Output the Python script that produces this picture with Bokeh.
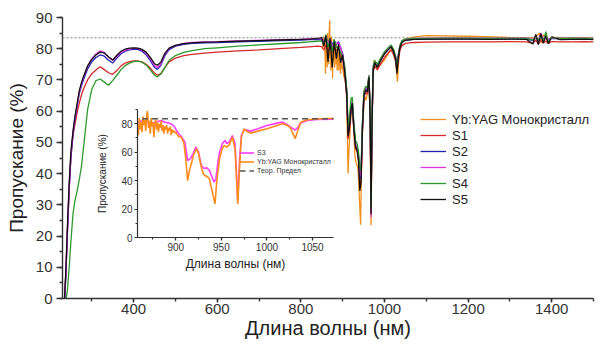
from bokeh.plotting import figure
from bokeh.models import Range1d, Span, Legend, LegendItem, GridBox, SingleIntervalTicker
from bokeh.embed import file_html
from bokeh.resources import INLINE

FONT = "Liberation Sans"

# ---------------- main chart data ----------------
wl = [230, 234, 238, 242, 246, 250, 255, 260, 265, 270,
      275, 280, 290, 300, 310, 320, 330, 340, 350, 360,
      370, 380, 390, 400, 410, 420, 430, 440, 450, 457,
      465, 475, 485, 500, 520, 540, 570, 600, 650, 700,
      750, 800, 820, 840, 850, 855, 860, 865, 870, 875,
      880, 885, 890, 895, 900, 905, 910, 913, 916, 920,
      923, 927, 931, 935, 938, 941, 944, 947, 951, 955,
      959, 963, 966, 968, 970, 973, 977, 983, 990, 1000,
      1010, 1016, 1022, 1027, 1030, 1033, 1037, 1042, 1050, 1070,
      1100, 1150, 1200, 1250, 1300, 1340, 1355, 1362, 1368, 1374,
      1380, 1386, 1392, 1400, 1420, 1450, 1480, 1500]

s1 = [-15, -3, 8, 22, 35, 45, 52, 56, 59.5, 62.5,
      65, 67, 70, 72, 73.2, 74.2, 73.3, 72.3, 71.8, 73,
      74.5, 75.4, 75.9, 76.1, 76.1, 75.8, 75, 73.8, 72.2, 71.5,
      72, 74, 75.8, 77, 77.8, 78.2, 78.6, 78.9, 79.3, 79.6,
      80, 80.4, 80.6, 80.8, 80.7, 79.6, 81.2, 79.2, 80.6, 78.8,
      80.4, 79.4, 80, 78.5, 76.5, 71.5, 64.5, 51, 53.5, 59.5,
      61.5, 53.5, 48, 47, 44, 36.6, 37.5, 52.5, 64.5, 66,
      65.5, 70, 58, 28, 54, 72.5, 74.5, 73.2, 75, 77.2,
      78.8, 79.6, 78, 75.8, 73, 76.2, 79.4, 81, 81.7, 82,
      82.1, 82.2, 82.2, 82.2, 82.3, 82.2, 81.7, 82.8, 81.5, 82.6,
      81.8, 82.5, 81.7, 82.3, 82.2, 82.2, 82.3, 82.2]

s2 = [-16, -4, 7, 22, 35, 45, 52.5, 57.5, 61.5, 65.5,
      68, 70, 73.5, 75.8, 77.2, 78, 77.6, 76.3, 75.4, 77,
      78.4, 79.2, 79.6, 79.8, 79.8, 79.2, 78.1, 76.2, 74, 73.4,
      74.6, 77.8, 79.7, 80.8, 81.4, 81.7, 81.9, 82, 82.2, 82.4,
      82.6, 82.8, 82.9, 83, 82.8, 82.3, 83.4, 81.8, 82.9, 81.2,
      82.5, 81.4, 82.3, 80.2, 78.5, 73.5, 66, 53, 55, 61,
      63, 55, 49, 48, 45.5, 39, 38.5, 54, 65.5, 67,
      66.5, 71, 59, 30, 55, 73.5, 75.6, 74.4, 76.2, 78.5,
      80, 80.8, 79.2, 77, 73.5, 77.5, 80.6, 82.2, 82.8, 83,
      83.1, 83.2, 83.2, 83.1, 83.2, 83.2, 82.6, 83.8, 82.4, 83.9,
      82.7, 83.5, 82.6, 83.3, 83.2, 83.1, 83.2, 83.1]

s3 = [-15, -3, 8, 23, 36, 46, 53, 58, 62, 66,
      68.5, 70.7, 74.3, 76.8, 78.3, 79.3, 78.8, 77.3, 76.2, 77.6,
      78.9, 79.6, 79.9, 80.1, 80.1, 79.6, 78.6, 76.8, 74.6, 74,
      75.2, 78.3, 80.1, 81.1, 81.7, 82, 82.2, 82.3, 82.5, 82.7,
      82.9, 83.1, 83.2, 83.3, 83.2, 82.6, 83.7, 81.5, 83, 80.6,
      82.3, 81.6, 81.8, 80.5, 78, 73, 66, 54, 55.5, 61,
      63.5, 55, 49.5, 48.5, 46, 40.5, 39, 55, 66, 67.5,
      67, 71.5, 60, 26, 55, 74, 76, 74.8, 76.5, 78.8,
      80.3, 81.1, 79.5, 77.5, 75.5, 78, 81, 82.5, 83, 83.3,
      83.4, 83.5, 83.5, 83.4, 83.4, 83.5, 83, 84.2, 82.6, 85,
      82.8, 83.6, 83, 83.5, 83.4, 83.5, 83.4, 83.4]

s4 = [-20, -8, -1, 3, 10, 18, 27, 31.5, 34.5, 38,
      42, 48, 60.5, 67, 69.8, 70.3, 69.3, 68.3, 69.8, 71.5,
      73.3, 74.6, 75.4, 75.9, 76, 75.7, 74.8, 73.2, 71.5, 71,
      71.8, 74, 76.3, 77.8, 78.8, 79.4, 80, 80.3, 80.8, 81.2,
      81.6, 82, 82.2, 82.4, 82.5, 81.7, 84.5, 80.5, 82.8, 79,
      83, 80.5, 80, 79, 77.5, 74.5, 67, 55, 57.5, 64,
      64.5, 56, 50.5, 49.5, 47, 42, 41, 55.5, 66.5, 68,
      67.5, 71.5, 61, 29, 56.5, 74.5, 76.2, 75, 76.8, 79,
      80.5, 81.2, 79.8, 77.4, 74, 78, 81, 82.6, 83.1, 83.3,
      83.3, 83.4, 83.4, 83.3, 83.4, 83.3, 82.8, 83.9, 82.9, 84,
      82.5, 85.5, 82.2, 83.6, 83.3, 83.4, 83.3, 83.3]

s5 = [-14, -2, 9, 24, 37, 47, 53.5, 58.5, 62.5, 66.5,
      69, 71, 74.5, 76.6, 78, 78.9, 78.6, 77.4, 76.4, 77.9,
      79.2, 79.9, 80.2, 80.3, 80.2, 79.8, 78.9, 77.2, 75.2, 74.7,
      75.7, 78.6, 80.2, 81.1, 81.6, 81.9, 82.1, 82.2, 82.4, 82.6,
      82.8, 83, 83.1, 83.3, 83.6, 80.8, 84.2, 75.8, 83.4, 74,
      82.2, 76.8, 81.5, 75.5, 78, 72.5, 65, 52, 54.5, 60.5,
      62.5, 54, 48.5, 47.3, 44, 34.5, 37, 53, 65, 66.8,
      66.2, 70.8, 57, 27, 53, 73, 75.5, 74, 76, 78.3,
      79.8, 80.6, 79, 76.5, 72, 77, 80.4, 82, 82.7, 83,
      83.1, 83.1, 83.1, 83, 83.1, 83, 81.5, 84.6, 81.3, 84.8,
      81.8, 84.2, 81.6, 83.8, 82.9, 83, 83.1, 82.9]

# Yb:YAG single crystal (used in main chart and inset)
yb_wl = [852, 855, 858, 859, 860, 861, 862, 863, 864, 865,
         866, 867, 868, 869, 870, 871, 872, 873, 874, 875,
         876, 877, 878, 879, 880, 881, 882, 883, 884, 885,
         886, 887, 888, 889, 890, 891, 892, 893, 894, 895,
         896, 897, 898, 899, 900, 903, 906, 909, 911, 913,
         915, 917, 920, 923, 925, 928, 930, 932, 935, 937,
         939, 941, 943, 945, 948, 951, 953, 956, 959, 962,
         965, 968, 970, 972, 975, 978, 982, 990, 1000, 1011,
         1017, 1022, 1026, 1029, 1031, 1034, 1037, 1044, 1055, 1073,
         1100, 1200, 1300, 1360, 1370, 1375, 1380, 1390, 1400, 1500]
yb = [80, 84, 78, 72, 84, 76, 81, 74, 85, 79,
      83, 75, 86, 89, 77, 82, 73, 84, 78, 81,
      70.5, 79, 83, 76, 81, 74, 80, 77, 82, 75,
      79, 73, 78, 76, 79, 73, 77, 75, 78, 72,
      76, 74, 75, 73.5, 74, 71, 70.5, 66, 55, 40,
      47, 51.8, 59, 62.3, 59, 49.4, 45, 43.6, 42.5, 41.2,
      35, 29.4, 23.6, 40, 55.3, 62.5, 64.7, 63.5, 65.5, 70.6,
      62, 23.5, 50, 70.6, 76.4, 74.5, 73.4, 74.8, 76.4, 78.8,
      80, 79, 76.9, 72.5, 69.4, 75.5, 81.1, 82.8, 83.3, 83.8,
      84.2, 84, 83.6, 83.5, 85, 82, 84.5, 82.5, 83.6, 83.5]

theor_limit = 83.5

series_names = ["Yb:YAG Монокристалл", "S1", "S2", "S3", "S4", "S5"]
series_colors = ["#f28e1c", "#d42a2a", "#2121b5", "#e033e0", "#2e9a2e", "#111111"]

# ---------------- inset data (S3 detail) ----------------
inset_s3_wl = [858, 862, 866, 870, 875, 880, 884, 888, 892, 896,
               899, 902, 906, 910, 913, 916, 919, 922, 925, 928,
               931, 934, 937, 940, 942, 944, 946, 948, 951, 954,
               956, 959, 962, 965, 968, 970, 972, 975, 978, 982,
               990, 1000, 1011, 1017, 1022, 1026, 1029, 1031, 1034, 1037,
               1044, 1055, 1073]
inset_s3 = [80, 82, 81, 81.5, 80.5, 81.5, 82.3, 81, 80.5, 79.5,
            77.5, 74, 71, 67, 54, 55.5, 59, 63.5, 60, 50.6,
            48.5, 49, 47, 42, 39, 41, 52, 60, 66, 68.2,
            66, 67.5, 71.7, 66, 25.9, 55, 72, 75.7, 75.5, 74.8,
            76.5, 78.8, 80.4, 81.1, 79.5, 77.6, 76.4, 75.5, 77.5, 80.5,
            82.3, 83, 83.2]

inset_names = ["S3", "Yb:YAG Монокристалл", "Теор. Предел"]
inset_colors = ["#ff3dff", "#ff8c1a", "#555555"]

W, H = 612, 342


def style_axes(fig, tick_size, label_size_x, label_size_y, tick_out, minor_out, lw):
    for ax in (fig.xaxis[0], fig.yaxis[0]):
        ax.axis_line_width = lw
        ax.axis_line_color = "#333333"
        ax.major_tick_line_color = "#333333"
        ax.minor_tick_line_color = "#333333"
        ax.major_tick_line_width = lw
        ax.minor_tick_line_width = lw
        ax.major_tick_in = 0
        ax.minor_tick_in = 0
        ax.major_tick_out = tick_out
        ax.minor_tick_out = minor_out
        ax.major_label_text_font = FONT
        ax.major_label_text_font_size = tick_size
        ax.major_label_text_color = "#333333"
        ax.axis_label_text_font = FONT
        ax.axis_label_text_font_style = "normal"
        ax.axis_label_text_color = "#222222"
    fig.xaxis[0].axis_label_text_font_size = label_size_x
    fig.yaxis[0].axis_label_text_font_size = label_size_y
    fig.xgrid.visible = False
    fig.ygrid.visible = False


# ---------------- main figure ----------------
p = figure(width=W, height=H, x_range=Range1d(230, 1500), y_range=Range1d(0, 90),
           output_backend="svg", toolbar_location=None, frame_align=False,
           min_border_left=62, min_border_right=W - 593, min_border_top=17, min_border_bottom=H - 298,
           outline_line_color=None, background_fill_color="white", border_fill_color="white")

p.xaxis[0].ticker = SingleIntervalTicker(interval=200, num_minor_ticks=2)
p.yaxis[0].ticker = SingleIntervalTicker(interval=10, num_minor_ticks=2)
p.xaxis[0].axis_label = "Длина волны (нм)"
p.yaxis[0].axis_label = "Пропускание (%)"
style_axes(p, "15px", "20px", "19px", 5, 3, 1.4)
p.xaxis[0].major_tick_out = 4
p.xaxis[0].minor_tick_out = 3
p.xaxis[0].major_label_standoff = 1
p.xaxis[0].axis_label_standoff = 0
p.yaxis[0].major_tick_out = 6
p.yaxis[0].major_label_standoff = 4
p.yaxis[0].axis_label_standoff = 6

p.add_layout(Span(location=theor_limit, dimension="width", line_color="#888888",
                  line_dash="2 2", line_width=1))

main_series = [(yb_wl, yb), (wl, s1), (wl, s2), (wl, s3), (wl, s4), (wl, s5)]
items = []
for (xs, ys), name, col in zip(main_series, series_names, series_colors):
    r = p.line(xs, ys, line_color=col, line_width=1.3)
    items.append(LegendItem(label=name, renderers=[r]))

legend = Legend(items=items, location=(358, 91), orientation="vertical",
                label_text_font=FONT, label_text_font_size="13px", label_text_color="#222222",
                glyph_width=26, glyph_height=16, label_height=16, label_standoff=6,
                spacing=0, padding=0, margin=0,
                border_line_color=None, background_fill_alpha=0)
p.add_layout(legend)

# ---------------- inset figure (overlaid, same canvas size) ----------------
inset = figure(width=W, height=H, x_range=Range1d(858, 1073), y_range=Range1d(0, 90),
               output_backend="svg", toolbar_location=None, frame_align=False,
               min_border_left=137, min_border_right=W - 333, min_border_top=109,
               min_border_bottom=H - 237,
               outline_line_color=None, background_fill_color=None, border_fill_color=None)
inset.xaxis[0].ticker = SingleIntervalTicker(interval=50, num_minor_ticks=2)
inset.yaxis[0].ticker = SingleIntervalTicker(interval=20, num_minor_ticks=2)
inset.xaxis[0].axis_label = "Длина волны (нм)"
inset.yaxis[0].axis_label = "Пропускание (%)"
style_axes(inset, "10px", "12px", "10px", 3, 2, 1.2)
inset.xaxis[0].major_label_standoff = 2
inset.xaxis[0].axis_label_standoff = 3
inset.yaxis[0].major_label_standoff = 2
inset.yaxis[0].axis_label_standoff = 10

r_s3 = inset.line(inset_s3_wl, inset_s3, line_color=inset_colors[0], line_width=1.6)
r_yb = inset.line(yb_wl, yb, line_color=inset_colors[1], line_width=1.6)
lim_x = [yb_wl[0], yb_wl[-1]]
r_lim = inset.line(lim_x, [theor_limit, theor_limit], line_color=inset_colors[2],
                   line_dash="6 4", line_width=1.6)

inset_legend = Legend(items=[LegendItem(label=inset_names[0], renderers=[r_s3]),
                             LegendItem(label=inset_names[1], renderers=[r_yb]),
                             LegendItem(label=inset_names[2], renderers=[r_lim])],
                      location=(102, 62), orientation="vertical",
                      label_text_font=FONT, label_text_font_size="7px", label_text_color="#333333",
                      glyph_width=15, glyph_height=9, label_height=9, label_standoff=3,
                      spacing=0, padding=0, margin=0,
                      border_line_color=None, background_fill_alpha=0)
inset.add_layout(inset_legend)

layout = GridBox(children=[(p, 0, 0), (inset, 0, 0)])

open("out.html", "w").write(file_html(layout, INLINE))
